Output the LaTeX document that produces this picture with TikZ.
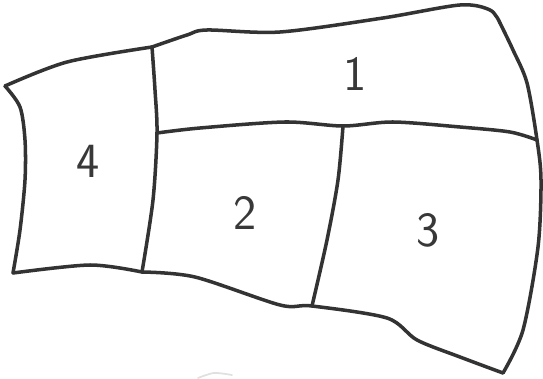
\documentclass[tikz,border=0pt]{standalone}
\begin{document}
\begin{tikzpicture}[x=0.02cm,y=-0.02cm,line width=2pt,line join=round,line cap=round]
\tikzset{pencil/.style={draw=black!80},
  digit/.style={font=\sffamily\fontsize{28}{28}\selectfont,text=black!78}}
\useasboundingbox (0,0) rectangle (543,378);
% outer boundary
\draw[pencil] plot[smooth,tension=0.5] coordinates {(5,86) (67,62) (152,47)};
\draw[pencil] plot[smooth,tension=0.5] coordinates {(152,47) (187,35) (207,30) (280,32) (383,18) (460,5) (490,10) (500,23)};
\draw[pencil] plot[smooth,tension=0.5] coordinates {(500,23) (513,50) (527,83) (537,140) (541,180) (538,247) (523,330) (503,373)};
\draw[pencil] plot[smooth,tension=0.5] coordinates {(503,373) (460,357) (417,340) (387,318) (312,306) (280,305) (195,277) (142,272)};
\draw[pencil] plot[smooth,tension=0.5] coordinates {(142,272) (90,265) (13,273)};
\draw[pencil] plot[smooth,tension=0.5] coordinates {(13,273) (20,230) (25,180) (25,140) (20,107) (5,86)};
% dividers
\draw[pencil] plot[smooth,tension=0.5] coordinates {(152,47) (155,90) (157,133) (153,200) (142,272)};
\draw[pencil] plot[smooth,tension=0.5] coordinates {(157,133) (200,128) (285,122) (343,126) (393,122) (460,127) (510,132) (537,140)};
\draw[pencil] plot[smooth,tension=0.5] coordinates {(343,126) (338,180) (327,240) (312,306)};
% faint mark
\draw[black!12,line width=1pt] plot[smooth] coordinates {(198,378) (214,373) (232,375)};
% labels
\node[digit] (one) at (355,74) {1};
\node[digit] (two) at (245,213) {2};
\node[digit] (three) at (428,230) {3};
\node[digit] (four) at (88,161) {4};
\end{tikzpicture}
\end{document}
